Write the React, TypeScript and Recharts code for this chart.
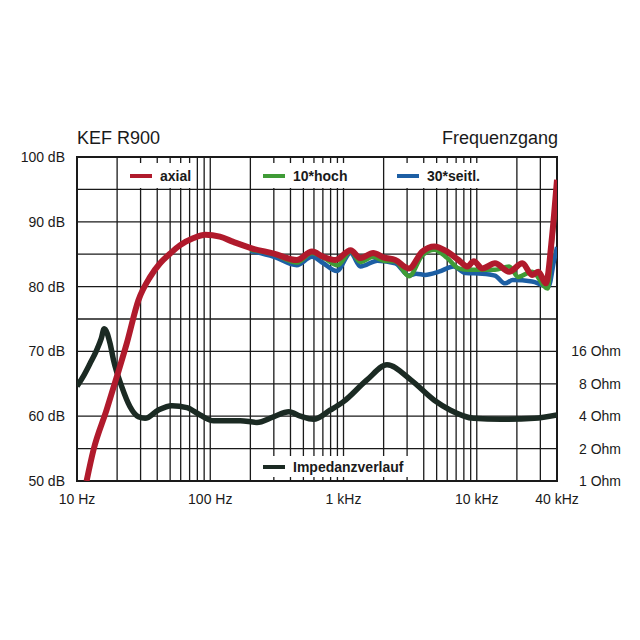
import React from 'react';
import { LineChart, Line, XAxis, YAxis, CartesianGrid, ReferenceArea } from 'recharts';

const FONT = '"Liberation Sans", Arial, Helvetica, sans-serif';
const INK = '#1a1a1a';

// Frequenzgang, axial (Hz / dB)
const axialFreq = [11.8, 13.3, 16.7, 19.9, 23.6, 28.9, 35.4, 42, 50, 59.5, 75, 92, 118, 149, 205, 300, 446, 580, 706, 870, 1130, 1340, 1670, 2000, 2450, 3100, 3900, 4800, 6000, 7300, 8500, 9500, 11000, 13700, 17500, 22000, 26000, 29000, 33000, 36700, 40000];
const axialDb = [50, 54.8, 61, 66.1, 71.2, 77.9, 81.5, 83.6, 85.1, 86.4, 87.5, 88, 87.7, 86.9, 85.9, 85.1, 84.1, 85.4, 84.6, 84.1, 85.6, 84.4, 85.2, 84.5, 84.1, 82.8, 85.4, 86.2, 85.4, 84.1, 83.1, 83.9, 82.8, 83.6, 82.3, 83.6, 81.8, 82.3, 80.5, 87.7, 96.5];

// 10° hoch
const upFreq = [200, 300, 446, 580, 706, 900, 1130, 1340, 1670, 2000, 2450, 3100, 3900, 4800, 6000, 7300, 8500, 10400, 13700, 17500, 20400, 26000, 34000, 36700, 40000];
const upDb = [85.7, 85.0, 83.7, 85.2, 84.5, 83.3, 85.4, 83.8, 84.6, 84.0, 83.9, 81.6, 84.8, 85.7, 84.4, 82.8, 82.6, 82.6, 82.6, 83.1, 81.5, 82.3, 79.7, 87, 95];

// 30° seitlich
const sideFreq = [200, 300, 446, 580, 706, 890, 1130, 1340, 1800, 2450, 3100, 3500, 4100, 5200, 6700, 8200, 11000, 13700, 16300, 18600, 26000, 31500, 34500, 38000, 40000];
const sideDb = [85.5, 84.6, 83.3, 84.6, 83.6, 82.4, 85.2, 83.1, 84.0, 83.6, 81.7, 82.0, 81.8, 82.3, 83.1, 82.1, 82.0, 81.7, 80.5, 81.0, 80.8, 80.2, 80.0, 84, 86.1];

// Impedanzverlauf (Hz / Ohm)
const impFreq = [10, 11.2, 12.5, 14, 15.2, 16, 17.7, 18.8, 21.7, 25, 28.9, 32.4, 40.9, 51.5, 66.8, 84, 106, 168, 224, 298, 389, 475, 595, 798, 1000, 1500, 2120, 3200, 4770, 6300, 9500, 15200, 27000, 40000];
const impOhm = [7.6, 9.5, 12.3, 16.3, 21, 26, 19, 13.3, 7.5, 4.9, 3.95, 3.82, 4.57, 5.0, 4.8, 4.1, 3.63, 3.63, 3.5, 3.95, 4.4, 4.0, 3.74, 4.57, 5.46, 8.7, 12, 8.7, 5.66, 4.57, 3.82, 3.74, 3.82, 4.1];

const freqTicks = [10, 100, 1000, 10000, 40000];
const freqTickLabels = ['10 Hz', '100 Hz', '1 kHz', '10 kHz', '40 kHz'];
const dbTicks = [50, 60, 70, 80, 90, 100];
const ohmTicks = [1, 2, 4, 8, 16];
const gridFreqs = [20, 30, 40, 50, 60, 70, 80, 90, 100, 200, 300, 400, 500, 600, 700, 800, 900, 1000, 2000, 3000, 4000, 5000, 6000, 7000, 8000, 9000, 10000, 20000, 30000];
const gridDb = [55, 60, 65, 70, 75, 80, 85, 90, 95];

const toPoints = (f: number[], v: number[]) => f.map((x, i) => ({ f: x, v: v[i] }));

const axial = toPoints(axialFreq, axialDb);
const up = toPoints(upFreq, upDb);
const side = toPoints(sideFreq, sideDb);
const imp = toPoints(impFreq, impOhm);

const RED = '#b01a2c';
const GREEN = '#3f9b36';
const BLUE = '#1d5fa4';
const BLACK = '#1b2a23';

const XTick = ({ x, y, payload }: any) => {
  const i = freqTicks.indexOf(payload.value);
  return (
    <text x={x} y={y + 23} textAnchor="middle" fontSize={14} fill={INK} fontFamily={FONT}>
      {freqTickLabels[i]}
    </text>
  );
};

const DbTick = ({ x, y, payload }: any) => (
  <text x={x - 12} y={y + 5} textAnchor="end" fontSize={14} fill={INK} fontFamily={FONT}>
    {`${payload.value} dB`}
  </text>
);

const OhmTick = ({ x, y, payload }: any) => (
  <text x={x + 64} y={y + 5} textAnchor="end" fontSize={14} fill={INK} fontFamily={FONT}>
    {`${payload.value} Ohm`}
  </text>
);

// white legend boxes sit on the grid, only the short tick stubs stay visible
const LegendBox = ({ left, top, width, height, color, label }: any) => (
  <div
    style={{
      position: 'absolute',
      left,
      top,
      width,
      height,
      background: '#fff',
    }}
  >
    <div
      style={{
        position: 'absolute',
        left: 7,
        top: height / 2 - 2,
        width: 22,
        height: 4,
        background: color,
      }}
    />
    <span
      style={{
        position: 'absolute',
        left: 37,
        top: height / 2 - 9,
        lineHeight: '18px',
        fontSize: 14,
        fontWeight: 'bold',
        color: INK,
        whiteSpace: 'nowrap',
      }}
    >
      {label}
    </span>
  </div>
);

export default function App() {
  return (
    <div
      style={{
        position: 'absolute',
        left: 0,
        top: 0,
        width: 640,
        height: 640,
        background: '#fff',
        fontFamily: FONT,
      }}
    >
      <LineChart width={640} height={640} margin={{ top: 157, right: 0, bottom: 0, left: 0 }}>
        <CartesianGrid
          yAxisId="db"
          verticalValues={gridFreqs}
          horizontalValues={gridDb}
          stroke={INK}
          strokeWidth={1.3}
        />
        <XAxis
          dataKey="f"
          type="number"
          scale="log"
          domain={[10, 40000]}
          ticks={freqTicks}
          interval={0}
          allowDataOverflow
          height={159}
          tickSize={0}
          tickMargin={0}
          tickLine={false}
          axisLine={false}
          tick={<XTick />}
        />
        <YAxis
          yAxisId="db"
          type="number"
          domain={[50, 100]}
          ticks={dbTicks}
          allowDataOverflow
          width={77}
          tickSize={0}
          tickMargin={0}
          tickLine={false}
          axisLine={false}
          tick={<DbTick />}
        />
        <YAxis
          yAxisId="ohm"
          orientation="right"
          type="number"
          scale="log"
          domain={[1, 1024]}
          ticks={ohmTicks}
          allowDataOverflow
          width={83}
          tickSize={0}
          tickMargin={0}
          tickLine={false}
          axisLine={false}
          tick={<OhmTick />}
        />
        <ReferenceArea
          yAxisId="db"
          x1={10}
          x2={40000}
          y1={50}
          y2={100}
          fill="none"
          stroke={INK}
          strokeWidth={2}
          fillOpacity={0}
        />
        <Line
          yAxisId="ohm"
          data={imp}
          dataKey="v"
          type="monotone"
          stroke={BLACK}
          strokeWidth={5.5}
          dot={false}
          isAnimationActive={false}
        />
        <Line
          yAxisId="db"
          data={side}
          dataKey="v"
          type="monotone"
          stroke={BLUE}
          strokeWidth={4.5}
          dot={false}
          isAnimationActive={false}
        />
        <Line
          yAxisId="db"
          data={up}
          dataKey="v"
          type="monotone"
          stroke={GREEN}
          strokeWidth={4.5}
          dot={false}
          isAnimationActive={false}
        />
        <Line
          yAxisId="db"
          data={axial}
          dataKey="v"
          type="monotone"
          stroke={RED}
          strokeWidth={6}
          dot={false}
          isAnimationActive={false}
        />
      </LineChart>

      <div style={{ position: 'absolute', left: 77, top: 127, fontSize: 18, lineHeight: '22px', color: INK }}>
        KEF R900
      </div>
      <div
        style={{
          position: 'absolute',
          right: 640 - 558,
          top: 127,
          fontSize: 18,
          lineHeight: '22px',
          color: INK,
        }}
      >
        Frequenzgang
      </div>

      <LegendBox left={123} top={163} width={71} height={25} color={RED} label="axial" />
      <LegendBox left={256} top={163} width={122} height={25} color={GREEN} label="10*hoch" />
      <LegendBox left={390} top={163} width={122} height={25} color={BLUE} label="30*seitl." />
      <LegendBox left={256} top={456} width={161} height={21} color={BLACK} label="Impedanzverlauf" />
    </div>
  );
}
